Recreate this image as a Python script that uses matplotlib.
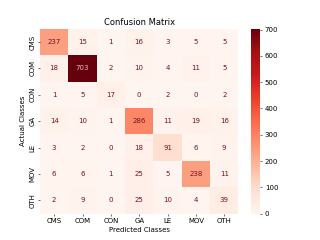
import matplotlib
matplotlib.use("Agg")
import matplotlib.pyplot as plt
import seaborn as sns
import numpy as np

classes = ["CMS", "COM", "CON", "GA", "LE", "MOV", "OTH"]
cm = np.array([
    [237, 15, 1, 16, 3, 5, 5],
    [18, 703, 2, 10, 4, 11, 5],
    [1, 5, 17, 0, 2, 0, 2],
    [14, 10, 1, 286, 11, 19, 16],
    [3, 2, 0, 18, 91, 6, 9],
    [6, 6, 1, 25, 5, 238, 11],
    [2, 9, 0, 25, 10, 4, 39],
])

fig = plt.figure(figsize=(6.4, 4.8), dpi=50)
ax = sns.heatmap(cm, annot=True, fmt="d", cmap="Reds",
                 xticklabels=classes, yticklabels=classes)
for t in ax.texts:
    if int(t.get_text()) > 500:
        t.set_color("#f0b8bc")
    else:
        t.set_color("#7a1020")
ax.set_title("Confusion Matrix")
ax.set_xlabel("Predicted Classes")
ax.set_ylabel("Actual Classes")
plt.savefig("out.png", dpi=50)
